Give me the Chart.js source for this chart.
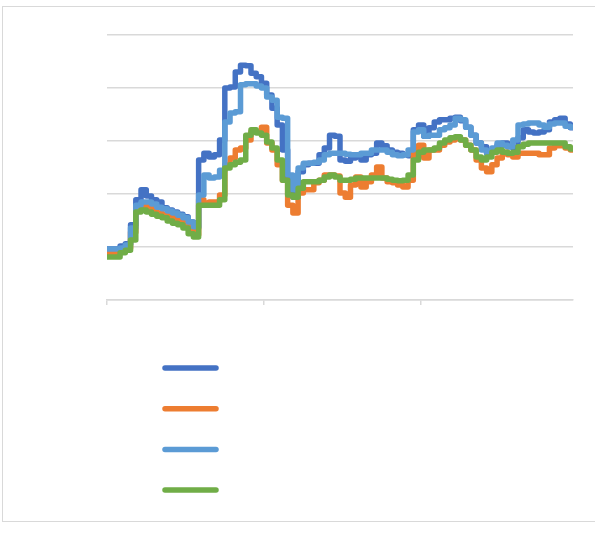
<!DOCTYPE html>
<html>
<head>
<meta charset="utf-8">
<script src="https://cdn.jsdelivr.net/npm/chart.js@4.4.1/dist/chart.umd.min.js"></script>
<style>
  html, body { margin: 0; padding: 0; background: #fff; }
  #frame {
    position: absolute; left: 2px; top: 6px;
    width: 600px; height: 514px;
    border: 1.5px solid #d9d9d9;
  }
  #wrap { position: absolute; left: 0; top: 0; width: 595px; height: 535px; }
</style>
</head>
<body>
<div id="frame"></div>
<div id="wrap"><canvas id="myLineChart" width="595" height="535"></canvas></div>
<script>
// Sample data (no labels shown on the chart)
const points = 90;
const xTicks = [0, 30, 60];

const series1 = [0.96, 0.96, 0.96, 1.02, 1.06, 1.42, 1.89, 2.08, 1.96, 1.89,
                 1.85, 1.74, 1.70, 1.66, 1.62, 1.57, 1.47, 1.36, 2.64, 2.77,
                 2.70, 2.74, 3.02, 4.00, 4.02, 4.30, 4.43, 4.42, 4.28, 4.21,
                 4.09, 3.87, 3.62, 3.30, 2.83, 2.26, 1.94, 2.42, 2.55, 2.58,
                 2.58, 2.74, 2.87, 3.11, 3.09, 2.64, 2.62, 2.68, 2.74, 2.64,
                 2.74, 2.77, 2.96, 2.91, 2.83, 2.79, 2.77, 2.74, 2.72, 3.21,
                 3.30, 3.09, 3.25, 3.36, 3.40, 3.40, 3.43, 3.45, 3.38, 3.26,
                 3.11, 2.96, 2.89, 2.77, 2.83, 2.92, 2.96, 2.89, 2.87, 3.06,
                 3.21, 3.17, 3.15, 3.17, 3.21, 3.36, 3.40, 3.43, 3.32, 3.25];

const series2 = [0.89, 0.89, 0.89, 0.94, 0.98, 1.28, 1.74, 1.79, 1.75, 1.70,
                 1.64, 1.62, 1.58, 1.55, 1.49, 1.45, 1.36, 1.23, 1.89, 1.83,
                 1.85, 1.85, 1.98, 2.55, 2.68, 2.83, 2.87, 3.02, 3.17, 3.17,
                 3.26, 2.96, 2.83, 2.55, 2.26, 1.79, 1.64, 2.02, 2.08, 2.08,
                 2.21, 2.26, 2.36, 2.36, 2.34, 2.02, 1.94, 2.17, 2.32, 2.13,
                 2.23, 2.36, 2.51, 2.30, 2.23, 2.21, 2.17, 2.13, 2.26, 2.83,
                 2.92, 2.68, 2.83, 2.83, 2.92, 2.98, 3.02, 3.06, 3.02, 2.92,
                 2.83, 2.64, 2.49, 2.42, 2.55, 2.68, 2.79, 2.74, 2.70, 2.77,
                 2.77, 2.77, 2.77, 2.74, 2.74, 2.87, 2.91, 2.91, 2.87, 2.83];

const series3 = [0.96, 0.96, 0.96, 0.98, 1.04, 1.36, 1.79, 1.85, 1.85, 1.81,
                 1.75, 1.72, 1.68, 1.64, 1.60, 1.55, 1.47, 1.38, 1.98, 2.36,
                 2.30, 2.32, 2.45, 3.36, 3.53, 3.55, 4.06, 4.08, 4.08, 4.04,
                 4.00, 3.83, 3.77, 3.45, 3.43, 2.36, 2.08, 2.49, 2.58, 2.58,
                 2.60, 2.64, 2.74, 2.77, 2.77, 2.77, 2.75, 2.74, 2.74, 2.77,
                 2.77, 2.83, 2.83, 2.83, 2.79, 2.74, 2.72, 2.74, 2.83, 3.17,
                 3.21, 3.09, 3.11, 3.11, 3.21, 3.25, 3.30, 3.43, 3.40, 3.26,
                 3.11, 2.96, 2.83, 2.77, 2.87, 2.96, 2.92, 2.89, 3.02, 3.30,
                 3.32, 3.34, 3.34, 3.30, 3.26, 3.32, 3.34, 3.34, 3.28, 3.26];

const series4 = [0.81, 0.81, 0.81, 0.89, 0.94, 1.13, 1.66, 1.70, 1.66, 1.62,
                 1.58, 1.55, 1.49, 1.45, 1.42, 1.36, 1.25, 1.19, 1.79, 1.79,
                 1.79, 1.79, 1.89, 2.49, 2.55, 2.60, 2.64, 3.11, 3.21, 3.15,
                 3.11, 2.98, 2.87, 2.64, 2.26, 1.98, 1.94, 2.11, 2.23, 2.23,
                 2.23, 2.26, 2.32, 2.36, 2.32, 2.26, 2.26, 2.28, 2.30, 2.30,
                 2.30, 2.30, 2.30, 2.30, 2.28, 2.26, 2.25, 2.26, 2.36, 2.64,
                 2.79, 2.83, 2.83, 2.87, 2.96, 3.02, 3.06, 3.08, 3.02, 2.92,
                 2.83, 2.70, 2.64, 2.70, 2.79, 2.83, 2.79, 2.77, 2.79, 2.89,
                 2.94, 2.96, 2.96, 2.96, 2.96, 2.96, 2.96, 2.96, 2.89, 2.85];

const seriesList = [series1, series2, series3, series4];
const colors = ['#4472C4', '#ED7D31', '#5B9BD5', '#70AD47'];

const gridColor = '#d9d9d9';

const data = {
    datasets: seriesList.map((values, k) => ({
        label: '',
        data: values.map((v, i) => ({ x: i, y: v })),
        borderColor: colors[k],
        backgroundColor: colors[k],
        borderWidth: 5.5,
        pointRadius: 0,
        stepped: 'middle',
        borderJoinStyle: 'round',
        borderCapStyle: 'round',
        order: 3 - k  // later series drawn on top
    }))
};

// Legend with only line samples, stacked under the plot
const lineLegend = {
    id: 'lineLegend',
    afterDraw(chart) {
        const ctx = chart.ctx;
        ctx.save();
        ctx.lineCap = 'round';
        ctx.lineWidth = 5.5;
        chart.data.datasets.forEach((ds, i) => {
            const y = 368 + i * 40.7;
            ctx.strokeStyle = ds.borderColor;
            ctx.beginPath();
            ctx.moveTo(165, y);
            ctx.lineTo(216, y);
            ctx.stroke();
        });
        ctx.restore();
    }
};

const config = {
    type: 'line',
    data: data,
    options: {
        responsive: false,
        animation: false,
        layout: {
            padding: { left: 107, right: 22, top: 35, bottom: 230 }
        },
        plugins: {
            legend: { display: false },
            tooltip: { enabled: false }
        },
        scales: {
            x: {
                type: 'linear',
                min: 0,
                max: points - 1,
                afterBuildTicks: (scale) => {
                    scale.ticks = xTicks.map(v => ({ value: v }));
                },
                ticks: { display: false },
                grid: {
                    drawOnChartArea: false,
                    drawTicks: true,
                    tickLength: 5,
                    color: gridColor,
                    lineWidth: 1.5
                },
                border: { display: true, color: gridColor, width: 1.5 }
            },
            y: {
                min: 0,
                max: 5,
                ticks: { display: false, stepSize: 1 },
                grid: {
                    drawTicks: false,
                    color: gridColor,
                    lineWidth: 1.5
                },
                border: { display: false }
            }
        }
    },
    plugins: [lineLegend]
};

const canvas = document.getElementById('myLineChart');
var myChart = new Chart(canvas, config);
</script>
</body>
</html>
